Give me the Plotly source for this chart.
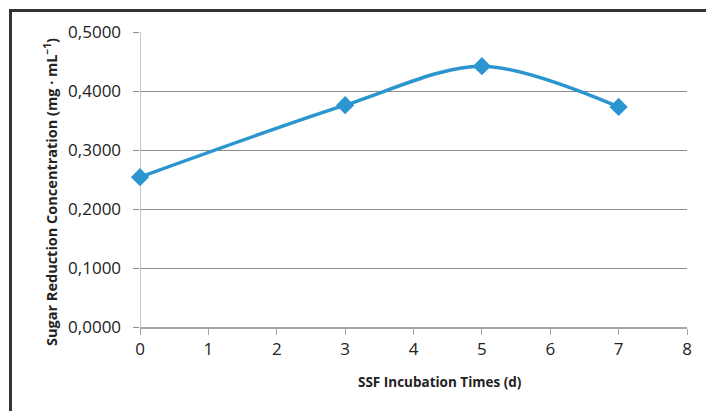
import plotly.graph_objects as go

days = [0, 3, 5, 7]
sugar = [0.254, 0.376, 0.442, 0.373]

W, H = 706, 411
L, R, T, B = 140, 19, 32, 84
pw, ph = W - L - R, H - T - B

fig = go.Figure()
fig.add_trace(go.Scatter(
    x=days, y=sugar, mode="lines+markers",
    line=dict(color="#2A95CE", width=3.5, shape="spline", smoothing=0.9),
    marker=dict(symbol="diamond", size=14, color="#2A95CE"),
    cliponaxis=False,
    showlegend=False,
))

font = "Open Sans, Liberation Sans, sans-serif"
fig.update_layout(
    width=W, height=H,
    margin=dict(l=L, r=R, t=T, b=B),
    paper_bgcolor="white", plot_bgcolor="white",
    separators=",.",
    font=dict(family=font, color="#222222"),
    xaxis=dict(
        range=[0, 8], dtick=1, tick0=0,
        showgrid=False, zeroline=False,
        showline=True, linecolor="#a6a6a6", linewidth=1.5,
        ticks="outside", ticklen=6, tickcolor="#a6a6a6", tickwidth=1,
        tickfont=dict(size=17, family=font, color="#222"),
    ),
    yaxis=dict(
        range=[0, 0.5], dtick=0.1, tick0=0, tickformat=".4f",
        ticksuffix="\u2002",
        showgrid=True, gridcolor="#8c8c8c", gridwidth=1,
        zeroline=False,
        showline=False,
        ticks="outside", ticklen=6, tickcolor="#8c8c8c",
        tickfont=dict(size=17, family=font, color="#222"),
    ),
)

def px_x(p):
    return (p - L) / pw
def px_y(p):
    return 1 - (p - T) / ph

# axis titles
fig.add_annotation(text="<b>SSF Incubation Times (d)</b>", xref="paper", yref="paper",
                   x=px_x(440), y=px_y(382), xanchor="center", yanchor="middle",
                   showarrow=False, font=dict(size=13.5, family=font, color="#222"))
fig.add_annotation(text="<b>Sugar Reduction Concentration (mg · mL<sup>−1</sup>)</b>",
                   xref="paper", yref="paper", x=px_x(50), y=px_y(192),
                   xanchor="center", yanchor="middle", textangle=-90,
                   showarrow=False, font=dict(size=14.5, family=font, color="#222"))

# light vertical axis line at x=0
fig.add_shape(type="line", xref="x", yref="paper", x0=0, x1=0, y0=0, y1=1,
              line=dict(color="#c8c8c8", width=2), layer="below")

# dark frame border (top and left) of the cropped chart
fig.add_shape(type="line", xref="paper", yref="paper",
              x0=px_x(9), x1=px_x(706), y0=px_y(10.5), y1=px_y(10.5),
              line=dict(color="#333333", width=3))
fig.add_shape(type="line", xref="paper", yref="paper",
              x0=px_x(10.5), x1=px_x(10.5), y0=px_y(9), y1=px_y(411),
              line=dict(color="#333333", width=3))

fig.write_html("out.html")
